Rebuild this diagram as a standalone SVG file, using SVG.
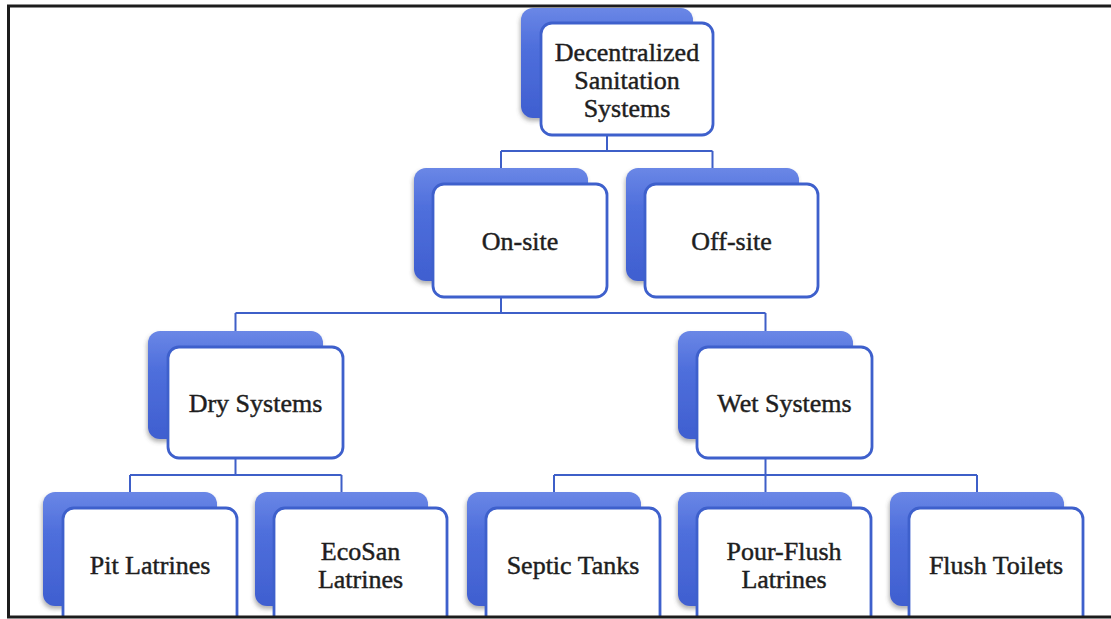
<svg xmlns="http://www.w3.org/2000/svg" width="1111" height="619" viewBox="0 0 1111 619">
  <defs>
    <linearGradient id="backGrad" x1="0" y1="0" x2="0" y2="1">
      <stop offset="0" stop-color="#6a87e6"/>
      <stop offset="0.35" stop-color="#4f6fdc"/>
      <stop offset="1" stop-color="#3f5fd0"/>
    </linearGradient>
    <filter id="soft" x="-10%" y="-10%" width="120%" height="125%">
      <feDropShadow dx="-1" dy="3" stdDeviation="2" flood-color="#555" flood-opacity="0.45"/>
    </filter>
    <clipPath id="frameClip">
      <rect x="9" y="7" width="1102" height="609"/>
    </clipPath>
    <style>
      .back { fill: url(#backGrad); filter: url(#soft); }
      .box { fill: #ffffff; stroke: #3e60cc; stroke-width: 2.8; }
      .label { font-family: "Liberation Serif", "Times New Roman", serif; font-size: 26px; fill: #1e1e1e; stroke: #1e1e1e; stroke-width: 0.45; text-anchor: middle; }
      .conn { fill: none; stroke: #3e5fc8; stroke-width: 2; }
    </style>
  </defs>

  <rect x="0" y="0" width="1111" height="619" fill="#ffffff"/>

  <g clip-path="url(#frameClip)">
    <!-- connectors -->
    <g id="connectors">
      <path class="conn" d="M607 135 V151 M501 151 H712.5 M501 151 V168 M712.5 151 V168"/>
      <path class="conn" d="M501 297 V313 M235.5 313 H765.5 M235.5 313 V331 M765.5 313 V331"/>
      <path class="conn" d="M235.5 458 V475 M130 475 H341.5 M130 475 V492 M341.5 475 V492"/>
      <path class="conn" d="M765.5 458 V475 M554 475 H977 M554 475 V492 M765.5 475 V492 M977 475 V492"/>
    </g>

    <g id="root">
      <rect class="back" x="521" y="8" width="172" height="110" rx="12"/>
      <rect class="box" x="541" y="23" width="172" height="112" rx="11"/>
      <text class="label" x="627" y="61">Decentralized</text>
      <text class="label" x="627" y="89">Sanitation</text>
      <text class="label" x="627" y="117">Systems</text>
    </g>

    <g id="on-site">
      <rect class="back" x="414" y="168" width="174" height="113" rx="12"/>
      <rect class="box" x="433" y="184" width="174" height="113" rx="11"/>
      <text class="label" x="520" y="250">On-site</text>
    </g>

    <g id="off-site">
      <rect class="back" x="626" y="168" width="173" height="113" rx="12"/>
      <rect class="box" x="645" y="184" width="173" height="113" rx="11"/>
      <text class="label" x="731.5" y="250">Off-site</text>
    </g>

    <g id="dry-systems">
      <rect class="back" x="148" y="331" width="175" height="108" rx="12"/>
      <rect class="box" x="168" y="347" width="175" height="111" rx="11"/>
      <text class="label" x="255.5" y="412">Dry Systems</text>
    </g>

    <g id="wet-systems">
      <rect class="back" x="678" y="331" width="175" height="108" rx="12"/>
      <rect class="box" x="697" y="347" width="175" height="111" rx="11"/>
      <text class="label" x="784.5" y="412">Wet Systems</text>
    </g>

    <g id="pit-latrines">
      <rect class="back" x="43" y="492" width="174" height="114" rx="12"/>
      <rect class="box" x="63" y="508" width="174" height="120" rx="11"/>
      <text class="label" x="150" y="574">Pit Latrines</text>
    </g>

    <g id="ecosan-latrines">
      <rect class="back" x="255" y="492" width="173" height="114" rx="12"/>
      <rect class="box" x="274" y="508" width="173" height="120" rx="11"/>
      <text class="label" x="360.5" y="560">EcoSan</text>
      <text class="label" x="360.5" y="588">Latrines</text>
    </g>

    <g id="septic-tanks">
      <rect class="back" x="467" y="492" width="174" height="114" rx="12"/>
      <rect class="box" x="486" y="508" width="174" height="120" rx="11"/>
      <text class="label" x="573" y="574">Septic Tanks</text>
    </g>

    <g id="pour-flush-latrines">
      <rect class="back" x="678" y="492" width="174" height="114" rx="12"/>
      <rect class="box" x="697" y="508" width="174" height="120" rx="11"/>
      <text class="label" x="784" y="560">Pour-Flush</text>
      <text class="label" x="784" y="588">Latrines</text>
    </g>

    <g id="flush-toilets">
      <rect class="back" x="890" y="492" width="174" height="114" rx="12"/>
      <rect class="box" x="909" y="508" width="174" height="120" rx="11"/>
      <text class="label" x="996" y="574">Flush Toilets</text>
    </g>
  </g>

  <!-- page frame -->
  <rect x="8.5" y="6" width="1120" height="611" fill="none" stroke="#1c1c1c" stroke-width="3"/>
</svg>
